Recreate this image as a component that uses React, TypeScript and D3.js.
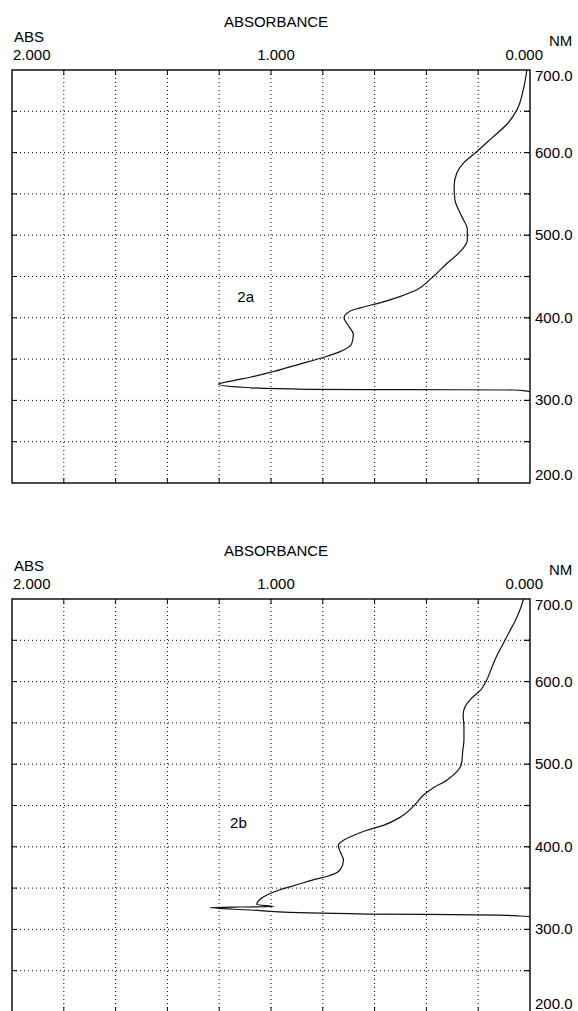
import React from "react";
import * as d3 from "d3";

const width = 578;
const height = 1011;

// axis ticks
const nmTicks = [700, 600, 500, 400, 300, 200];
const absTicks = [2, 1, 0];
const absTickLabels = ["2.000", "1.000", "0.000"];

// spectrum 2a (wavelength nm, absorbance)
const nm2a = [700, 676, 652, 634, 619, 601, 587, 575, 559, 543, 523, 507, 494, 480, 466, 448, 434, 426, 418, 412, 408, 400, 390, 380, 369, 359, 352, 344, 335, 328, 324, 319.5, 315.3, 313.4, 313.0, 312.6, 311.5, 310.5];
const abs2a = [0.012, 0.026, 0.05, 0.09, 0.143, 0.206, 0.258, 0.283, 0.293, 0.29, 0.264, 0.242, 0.242, 0.27, 0.32, 0.38, 0.437, 0.5, 0.58, 0.656, 0.695, 0.718, 0.7, 0.682, 0.688, 0.733, 0.798, 0.888, 0.99, 1.081, 1.146, 1.203, 1.08, 0.862, 0.46, 0.065, 0.02, 0.0];

// spectrum 2b
const nm2b = [700, 690, 675, 660, 645, 630, 615, 600, 590, 580, 570, 560, 545, 530, 515, 500, 490, 481, 470, 463, 449, 436, 426, 420, 414, 408, 402, 394, 384, 372, 364, 360, 354, 348, 338, 330, 327.6, 327.1, 326.4, 323.5, 320.2, 318.6, 317.4, 316.2, 315.6];
const abs2b = [0.025, 0.035, 0.055, 0.08, 0.105, 0.13, 0.15, 0.17, 0.19, 0.225, 0.25, 0.258, 0.255, 0.255, 0.26, 0.265, 0.285, 0.32, 0.38, 0.41, 0.45, 0.5, 0.566, 0.63, 0.68, 0.72, 0.74, 0.733, 0.72, 0.733, 0.785, 0.837, 0.9, 0.965, 1.036, 1.055, 0.99, 1.12, 1.235, 1.08, 0.888, 0.63, 0.116, 0.039, 0.0];

const font = "'Liberation Sans', Arial, sans-serif";

type PanelProps = {
  top: number;
  label: string;
  labelAbs: number;
  labelNm: number;
  nm: number[];
  abs: number[];
};

const Panel = ({ top, label, labelAbs, labelNm, nm, abs }: PanelProps) => {
  const left = 12;
  const right = 530;
  const bottom = top + 413;

  const x = d3.scaleLinear().domain([2, 0]).range([left, right]);
  const y = d3.scaleLinear().domain([700, 200]).range([top, bottom]);

  const pts = nm.map((n, i) => [abs[i], n] as [number, number]);
  const line = d3
    .line<[number, number]>()
    .x((d) => x(d[0]))
    .y((d) => y(d[1]))
    .curve(d3.curveMonotoneY);

  const vGrid = d3.range(1, 10).map((i) => i * 0.2);
  const hGrid = d3.range(250, 700, 50);

  return (
    <g>
      <text x={276} y={top - 43} textAnchor="middle" fontSize={15}>ABSORBANCE</text>
      <text x={14} y={top - 28} fontSize={15}>ABS</text>
      {absTicks.map((t, i) => (
        <text
          key={t}
          x={i === 0 ? 13 : i === 1 ? x(t) + 5 : 543}
          y={top - 10}
          fontSize={15}
          textAnchor={i === 0 ? "start" : i === 1 ? "middle" : "end"}
        >
          {absTickLabels[i]}
        </text>
      ))}
      <text x={549} y={top - 24} fontSize={15}>NM</text>

      {/* dotted grid */}
      {vGrid.map((v) => (
        <line key={"v" + v} x1={x(v)} x2={x(v)} y1={top} y2={bottom} stroke="#000" strokeWidth={1} strokeDasharray="1,3" />
      ))}
      {hGrid.map((h) => (
        <line key={"h" + h} x1={left} x2={right} y1={y(h)} y2={y(h)} stroke="#000" strokeWidth={1} strokeDasharray="1,3" />
      ))}

      {/* solid ticks on the frame */}
      {vGrid.map((v) => (
        <g key={"tv" + v}>
          <line x1={x(v)} x2={x(v)} y1={top} y2={top + 5} stroke="#000" strokeWidth={1} />
          <line x1={x(v)} x2={x(v)} y1={bottom} y2={bottom - 5} stroke="#000" strokeWidth={1} />
        </g>
      ))}
      {hGrid.map((h) => (
        <g key={"th" + h}>
          <line x1={left} x2={left + 5} y1={y(h)} y2={y(h)} stroke="#000" strokeWidth={1} />
          <line x1={right} x2={right - 6} y1={y(h)} y2={y(h)} stroke="#000" strokeWidth={1.2} />
        </g>
      ))}

      <rect x={left} y={top} width={right - left} height={bottom - top} fill="none" stroke="#000" strokeWidth={1.4} />

      {nmTicks.map((t) => (
        <text key={t} x={535} y={Math.min(Math.max(y(t) + 5, top + 11), bottom - 3, height - 2)} fontSize={15}>
          {t.toFixed(1)}
        </text>
      ))}

      <path d={line(pts) || ""} fill="none" stroke="#111" strokeWidth={1.2} strokeLinejoin="round" />

      <text x={x(labelAbs)} y={y(labelNm) + 5} fontSize={15}>{label}</text>
    </g>
  );
};

export default function App() {
  return (
    <svg
      width={width}
      height={height}
      style={{ position: "absolute", left: 0, top: 0, background: "#fff" }}
      fontFamily={font}
    >
      <rect width={width} height={height} fill="#fff" />
      <Panel top={70} label="2a" labelAbs={1.13} labelNm={425} nm={nm2a} abs={abs2a} />
      <Panel top={599} label="2b" labelAbs={1.158} labelNm={429} nm={nm2b} abs={abs2b} />
    </svg>
  );
}
